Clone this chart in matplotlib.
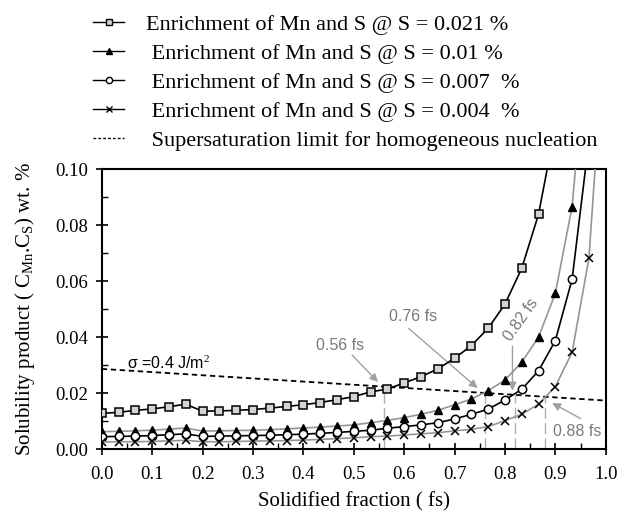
import matplotlib
matplotlib.use("Agg")
import matplotlib.pyplot as plt
from matplotlib.lines import Line2D
import numpy as np

# ---- data ----
fs = [i / 30 for i in range(31)]

s021 = [0.0127, 0.0131, 0.0138, 0.0143, 0.0151, 0.0160, 0.0135, 0.0136, 0.0138, 0.0141,
        0.0146, 0.0152, 0.0158, 0.0166, 0.0176, 0.0187, 0.0204, 0.0214, 0.0236, 0.0258,
        0.0286, 0.0324, 0.0369, 0.0431, 0.0517, 0.0645, 0.0838, 0.115]
s010 = [0.0062, 0.0063, 0.0065, 0.0067, 0.0071, 0.0075, 0.0064, 0.0065, 0.0066, 0.0067,
        0.0069, 0.0072, 0.0075, 0.0078, 0.0082, 0.0086, 0.0094, 0.0102, 0.0112, 0.0124,
        0.0138, 0.0158, 0.0178, 0.0208, 0.0246, 0.0310, 0.0399, 0.0556, 0.0865, 0.154]
s007 = [0.0044, 0.0045, 0.0046, 0.0048, 0.0051, 0.0054, 0.0045, 0.0046, 0.0047, 0.0048,
        0.0049, 0.0051, 0.0053, 0.0056, 0.0059, 0.0063, 0.0067, 0.0074, 0.0080, 0.0086,
        0.0094, 0.0107, 0.0124, 0.0142, 0.0175, 0.0213, 0.0279, 0.0387, 0.0606, 0.110]
s004 = [0.0025, 0.0026, 0.0026, 0.0027, 0.0029, 0.0031, 0.0026, 0.0026, 0.0027, 0.0028,
        0.0029, 0.0030, 0.0032, 0.0034, 0.0037, 0.0040, 0.0044, 0.0046, 0.0050, 0.0054,
        0.0058, 0.0065, 0.0070, 0.0080, 0.0101, 0.0124, 0.0160, 0.0223, 0.0345, 0.0681, 0.155]

limit_fs = [0.0, 1.0]
limit_val = [0.0286, 0.0173]

cross_fs = [0.56, 0.76, 0.82, 0.88]
cross_labels = ["0.56 fs", "0.76 fs", "0.82 fs", "0.88 fs"]

labels = ["Enrichment of Mn and S @ S = 0.021 %",
          " Enrichment of Mn and S @ S = 0.01 %",
          " Enrichment of Mn and S @ S = 0.007  %",
          " Enrichment of Mn and S @ S = 0.004  %",
          " Supersaturation limit for homogeneous nucleation"]

xticks = [0.0, 0.1, 0.2, 0.3, 0.4, 0.5, 0.6, 0.7, 0.8, 0.9, 1.0]
yticks = [0.00, 0.02, 0.04, 0.06, 0.08, 0.10]

serif = "Liberation Serif"
sans = "Liberation Sans"
plt.rcParams["mathtext.fontset"] = "custom"
plt.rcParams["mathtext.rm"] = serif
plt.rcParams["mathtext.it"] = serif + ":italic"

# ---- figure ----
W, H = 631, 514
fig = plt.figure(figsize=(W / 100, H / 100), dpi=100)
L, R, T, B = 101.7, 605.7, 169, 449
ax = fig.add_axes([L / W, 1 - B / H, (R - L) / W, (B - T) / H])

gray_line = "#959595"
gray_txt = "#7a7a7a"

ax.plot(fs[:len(s021)], s021, color="black", lw=1.2, marker="s", ms=5.8,
        mfc="#d4d4d4", mec="black", mew=1.1, zorder=5)
ax.plot(fs[:len(s010)], s010, color=gray_line, lw=1.2, marker="^", ms=6,
        mfc="black", mec="black", zorder=4)
ax.plot(fs[:len(s007)], s007, color="black", lw=1.2, marker="o", ms=6,
        mfc="white", mec="black", mew=1.1, zorder=4)
ax.plot(fs[:len(s004)], s004, color=gray_line, lw=1.2, marker="x", ms=6,
        mec="black", mew=1.1, zorder=4)

ax.plot(limit_fs, limit_val, color="black", lw=1.3, ls=(0, (3, 2)), zorder=3)

# vertical markers at crossing points
for xf in cross_fs:
    yl = np.interp(xf, limit_fs, limit_val)
    ax.plot([xf, xf], [0, yl], color="#b0b0b0", lw=1.0, ls=(0, (8, 3)), zorder=2)

# annotations
akw = dict(arrowstyle="-|>", color="#a0a0a0", lw=1.0, mutation_scale=12)
ax.annotate("", xy=(0.552, 0.0232), xytext=(0.493, 0.0343), arrowprops=akw)
ax.text(0.473, 0.0369, cross_labels[0], color=gray_txt, fontsize=11.5, family=sans,
        ha="center", va="center")
ax.annotate("", xy=(0.75, 0.0211), xytext=(0.605, 0.0437), arrowprops=akw)
ax.text(0.618, 0.0472, cross_labels[1], color=gray_txt, fontsize=11.5, family=sans,
        ha="center", va="center")
ax.annotate("", xy=(0.815, 0.0199), xytext=(0.815, 0.0377), arrowprops=akw)
ax.text(0.833, 0.046, cross_labels[2], color=gray_txt, fontsize=11.5, family=sans,
        ha="center", va="center", rotation=55)
ax.annotate("", xy=(0.889, 0.0169), xytext=(0.955, 0.0104), arrowprops=akw)
ax.text(0.944, 0.0062, cross_labels[3], color=gray_txt, fontsize=11.5, family=sans,
        ha="center", va="center")

ax.text(0.05, 0.0306, r"σ =0.4 J/m$^2$", color="black", fontsize=11.5, family=sans,
        ha="left", va="center")

# axes formatting
ax.set_xlim(0, 1.0)
ax.set_ylim(0, 0.10)
ax.set_xticks(xticks)
ax.set_xticklabels([f"{v:.1f}" for v in xticks], family=serif, fontsize=13.5)
ax.set_yticks(yticks)
ax.set_yticklabels([f"{v:.2f}" for v in yticks], family=serif, fontsize=13.5)
ax.set_xticks([0.05 + 0.1 * i for i in range(10)], minor=True)
ax.set_yticks([0.01 + 0.02 * i for i in range(5)], minor=True)
ax.tick_params(which="major", direction="inout", length=8, width=1.2)
ax.tick_params(axis="x", which="major", pad=8)
ax.tick_params(axis="y", which="major", pad=6)
ax.tick_params(which="minor", direction="in", length=4, width=1.0)
for sp in ax.spines.values():
    sp.set_linewidth(1.5)

ax.set_xlabel("Solidified fraction ( fs)", family=serif, fontsize=15, labelpad=7)
ax.set_ylabel(r"Solubility product ( C$_{\mathrm{Mn}}$.C$_{\mathrm{S}}$) wt. %",
              family=serif, fontsize=15, labelpad=13)

handles = [
    Line2D([], [], color="black", lw=1.0, marker="s", ms=4.5, mfc="#d4d4d4", mec="black"),
    Line2D([], [], color="black", lw=1.0, marker="^", ms=4.5, mfc="black", mec="black"),
    Line2D([], [], color="black", lw=1.0, marker="o", ms=4.5, mfc="white", mec="black"),
    Line2D([], [], color="black", lw=1.0, marker="x", ms=4.5, mec="black"),
    Line2D([], [], color="black", lw=1.0, ls=(0, (2, 1.5))),
]
fig.legend(handles, labels, loc="upper left", bbox_to_anchor=(93 / W, 1 - 14 / H),
           frameon=False, prop={"family": serif, "size": 16}, handlelength=1.4,
           handletextpad=1.0, labelspacing=0.38, borderpad=0, borderaxespad=0)

fig.savefig("out.png", dpi=100)
